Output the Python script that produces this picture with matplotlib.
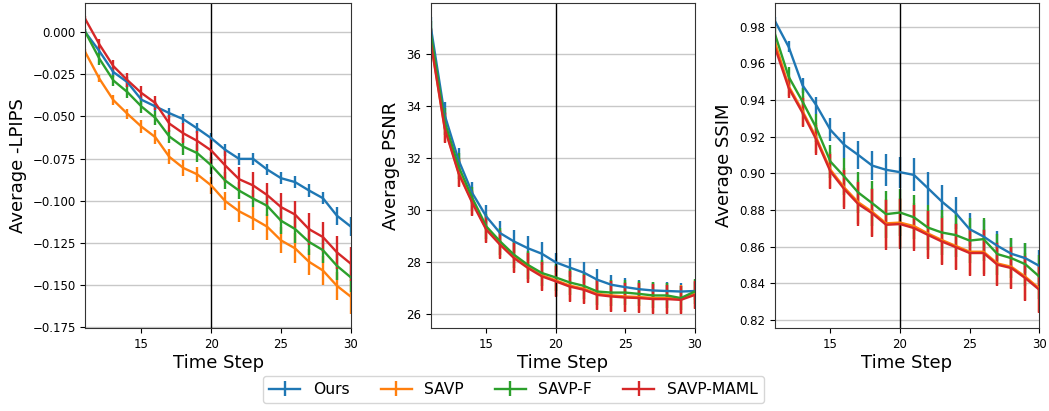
import matplotlib
matplotlib.use("Agg")
import matplotlib.pyplot as plt
import numpy as np

steps = list(range(11, 31))
series = ["Ours", "SAVP", "SAVP-F", "SAVP-MAML"]

# --- LPIPS (negative) ---
lpips_ours = [0.000, -0.0112, -0.0236, -0.0296, -0.0400, -0.0440, -0.0480, -0.0516, -0.0571, -0.0629, -0.0698, -0.0752, -0.0752, -0.0815, -0.0867, -0.0890, -0.0940, -0.0986, -0.1090, -0.1155]
lpips_savp = [-0.0120, -0.0276, -0.0403, -0.0484, -0.0560, -0.0623, -0.0740, -0.0806, -0.0844, -0.0910, -0.1003, -0.1064, -0.1107, -0.1155, -0.1237, -0.1284, -0.1364, -0.1416, -0.1507, -0.1572]
lpips_savpf = [0.000, -0.0157, -0.0286, -0.0355, -0.0440, -0.0508, -0.0619, -0.0679, -0.0718, -0.0790, -0.0881, -0.0941, -0.0988, -0.1031, -0.1120, -0.1169, -0.1246, -0.1295, -0.1388, -0.1457]
lpips_maml = [0.0077, -0.0072, -0.0201, -0.0284, -0.0360, -0.0420, -0.0542, -0.0600, -0.0645, -0.0702, -0.0791, -0.0873, -0.0910, -0.0967, -0.1039, -0.1083, -0.1170, -0.1217, -0.1308, -0.1376]
lpips_ours_err = [0.002, 0.003, 0.003, 0.003, 0.003, 0.003, 0.0028, 0.003, 0.003, 0.003, 0.0035, 0.0035, 0.0035, 0.0035, 0.0035, 0.0035, 0.004, 0.0035, 0.0053, 0.0057]
lpips_savp_err = [0.002, 0.002, 0.003, 0.003, 0.0038, 0.004, 0.0045, 0.0048, 0.0043, 0.005, 0.0052, 0.0064, 0.007, 0.0077, 0.0077, 0.009, 0.0077, 0.0087, 0.0085, 0.010]
lpips_savpf_err = [0.002, 0.0035, 0.0035, 0.0035, 0.0038, 0.004, 0.004, 0.005, 0.0055, 0.005, 0.005, 0.005, 0.005, 0.006, 0.008, 0.0084, 0.008, 0.0075, 0.0084, 0.0085]
lpips_maml_err = [0.002, 0.003, 0.0035, 0.004, 0.004, 0.0044, 0.005, 0.006, 0.006, 0.008, 0.010, 0.007, 0.0077, 0.0074, 0.0086, 0.0083, 0.0096, 0.009, 0.010, 0.010]

# --- PSNR ---
psnr_ours = [37.05, 33.66, 31.93, 30.65, 29.76, 29.12, 28.80, 28.54, 28.33, 28.00, 27.80, 27.61, 27.33, 27.14, 27.05, 26.97, 26.92, 26.90, 26.88, 26.90]
psnr_savp = [36.50, 33.19, 31.46, 30.31, 29.29, 28.71, 28.20, 27.82, 27.50, 27.31, 27.11, 26.99, 26.79, 26.73, 26.69, 26.67, 26.63, 26.63, 26.60, 26.79]
psnr_savpf = [36.80, 33.40, 31.68, 30.46, 29.38, 28.80, 28.29, 27.90, 27.59, 27.42, 27.23, 27.10, 26.88, 26.84, 26.84, 26.79, 26.73, 26.73, 26.63, 26.88]
psnr_maml = [36.45, 33.15, 31.42, 30.27, 29.25, 28.67, 28.16, 27.78, 27.46, 27.27, 27.07, 26.95, 26.75, 26.69, 26.65, 26.63, 26.59, 26.59, 26.56, 26.75]
psnr_ours_err = [0.35, 0.50, 0.45, 0.42, 0.43, 0.47, 0.45, 0.48, 0.45, 0.36, 0.37, 0.42, 0.42, 0.38, 0.35, 0.35, 0.34, 0.35, 0.34, 0.35]
psnr_savp_err = [0.50, 0.58, 0.54, 0.48, 0.51, 0.54, 0.58, 0.58, 0.56, 0.60, 0.58, 0.56, 0.58, 0.58, 0.56, 0.56, 0.58, 0.56, 0.54, 0.55]
psnr_savpf_err = [0.45, 0.52, 0.50, 0.45, 0.48, 0.50, 0.52, 0.52, 0.50, 0.52, 0.50, 0.50, 0.50, 0.50, 0.48, 0.48, 0.50, 0.48, 0.46, 0.48]
psnr_maml_err = [0.50, 0.58, 0.54, 0.48, 0.51, 0.54, 0.58, 0.58, 0.56, 0.60, 0.58, 0.56, 0.58, 0.58, 0.56, 0.56, 0.58, 0.56, 0.54, 0.55]

# --- SSIM ---
ssim_ours = [0.9833, 0.9690, 0.9480, 0.9370, 0.9237, 0.9155, 0.9100, 0.9042, 0.9019, 0.9006, 0.8991, 0.8919, 0.8846, 0.8783, 0.8695, 0.8655, 0.8604, 0.8561, 0.8537, 0.8495]
ssim_savp = [0.9720, 0.9476, 0.9340, 0.9192, 0.9020, 0.8922, 0.8842, 0.8790, 0.8727, 0.8731, 0.8712, 0.8672, 0.8636, 0.8604, 0.8572, 0.8572, 0.8508, 0.8490, 0.8436, 0.8372]
ssim_savpf = [0.9764, 0.9527, 0.9391, 0.9246, 0.9064, 0.8982, 0.8895, 0.8837, 0.8777, 0.8786, 0.8760, 0.8704, 0.8677, 0.8663, 0.8633, 0.8641, 0.8559, 0.8537, 0.8504, 0.8437]
ssim_maml = [0.9691, 0.9466, 0.9330, 0.9182, 0.9010, 0.8913, 0.8832, 0.8782, 0.8719, 0.8723, 0.8701, 0.8664, 0.8628, 0.8597, 0.8565, 0.8565, 0.8501, 0.8483, 0.8428, 0.8365]
ssim_ours_err = [0.002, 0.003, 0.004, 0.0045, 0.0062, 0.007, 0.0075, 0.008, 0.0086, 0.0085, 0.009, 0.009, 0.0088, 0.0088, 0.009, 0.009, 0.008, 0.0085, 0.0082, 0.0086]
ssim_savp_err = [0.003, 0.0055, 0.008, 0.008, 0.0098, 0.0107, 0.012, 0.013, 0.0135, 0.0135, 0.0127, 0.013, 0.013, 0.0127, 0.0125, 0.0123, 0.0118, 0.0115, 0.0128, 0.0127]
ssim_savpf_err = [0.003, 0.005, 0.0075, 0.0076, 0.009, 0.010, 0.0114, 0.0123, 0.0128, 0.013, 0.012, 0.0124, 0.0124, 0.012, 0.0125, 0.0117, 0.0112, 0.011, 0.0117, 0.012]
ssim_maml_err = [0.003, 0.0055, 0.008, 0.008, 0.0095, 0.0107, 0.012, 0.013, 0.0135, 0.0135, 0.0127, 0.013, 0.013, 0.0127, 0.0125, 0.0123, 0.0118, 0.0115, 0.0123, 0.0127]

lpips_ticks = [-0.175, -0.150, -0.125, -0.100, -0.075, -0.050, -0.025, 0.000]
psnr_ticks = [26, 28, 30, 32, 34, 36]
ssim_ticks = [0.82, 0.84, 0.86, 0.88, 0.90, 0.92, 0.94, 0.96, 0.98]
x_ticks = [15, 20, 25, 30]

panels = [
    ("Average -LPIPS", [lpips_ours, lpips_savp, lpips_savpf, lpips_maml],
     [lpips_ours_err, lpips_savp_err, lpips_savpf_err, lpips_maml_err],
     (-0.1758, 0.0173), lpips_ticks, "{:.3f}"),
    ("Average PSNR", [psnr_ours, psnr_savp, psnr_savpf, psnr_maml],
     [psnr_ours_err, psnr_savp_err, psnr_savpf_err, psnr_maml_err],
     (25.48, 37.94), psnr_ticks, "{:.0f}"),
    ("Average SSIM", [ssim_ours, ssim_savp, ssim_savpf, ssim_maml],
     [ssim_ours_err, ssim_savp_err, ssim_savpf_err, ssim_maml_err],
     (0.8156, 0.9927), ssim_ticks, "{:.2f}"),
]

colors = ["#1f77b4", "#ff7f0e", "#2ca02c", "#d62728"]
fig = plt.figure(figsize=(10.49, 4.11), dpi=100)
lefts = [0.0815, 0.4106, 0.7385]
widths = [0.2530, 0.2517, 0.2522]
bottom, height = 0.2019, 0.790

handles = []
for i, (ylab, ys, errs, ylim, yt, fmt) in enumerate(panels):
    ax = fig.add_axes([lefts[i], bottom, widths[i], height])
    for j, (name, y, e) in enumerate(zip(series, ys, errs)):
        h = ax.errorbar(steps, y, yerr=e, color=colors[j], lw=1.7, elinewidth=1.7,
                        capsize=0, label=name)
        if i == 0:
            handles.append(h)
    ax.axvline(20, color="black", lw=1.0)
    ax.set_xlim(11, 30)
    ax.set_ylim(*ylim)
    ax.set_xticks(x_ticks)
    ax.set_yticks(yt)
    ax.set_yticklabels([fmt.format(v).replace("-", "\u2212") for v in yt])
    ax.grid(axis="y", color="#c8c8c8", lw=1.0)
    ax.set_axisbelow(True)
    ax.tick_params(labelsize=8.5)
    ax.set_xlabel("Time Step", fontsize=13, labelpad=2)
    ax.set_ylabel(ylab, fontsize=13)
    for s in ax.spines.values():
        s.set_color("#333333")

fig.legend(handles, series, loc="lower center", ncol=4, fontsize=11.2,
           bbox_to_anchor=(0.4895, 0.0), frameon=True)
fig.savefig("out.png", dpi=100)
